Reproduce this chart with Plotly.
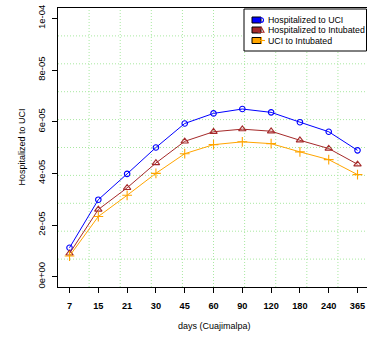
import plotly.graph_objects as go

days = ["7", "15", "21", "30", "45", "60", "90", "120", "180", "240", "365"]
hosp_to_uci = [1.12e-5, 2.98e-5, 3.98e-5, 5.00e-5, 5.93e-5, 6.32e-5, 6.49e-5, 6.36e-5, 5.98e-5, 5.61e-5, 4.89e-5]
hosp_to_intubated = [0.90e-5, 2.60e-5, 3.44e-5, 4.40e-5, 5.24e-5, 5.61e-5, 5.71e-5, 5.63e-5, 5.28e-5, 4.96e-5, 4.35e-5]
uci_to_intubated = [0.80e-5, 2.33e-5, 3.15e-5, 4.00e-5, 4.76e-5, 5.11e-5, 5.22e-5, 5.15e-5, 4.83e-5, 4.53e-5, 3.95e-5]
ytick_vals = [0, 2e-5, 4e-5, 6e-5, 8e-5, 1e-4]
ytick_text = ["0e+00", "2e-05", "4e-05", "6e-05", "8e-05", "1e-04"]
series_names = ["Hospitalized to UCI", "Hospitalized to Intubated", "UCI to Intubated"]

FONT = "Liberation Sans, Arial, sans-serif"
W, H = 367, 337
ML, MR, MT, MB = 58, 0, 8, 50
pw, ph = W - ML - MR, H - MT - MB
unit = 28.8
x_full = (0.6, 11.4)
x_range = [0.6, 0.6 + pw / unit]
y_range = [-4e-6, 1.04e-4]

x = list(range(1, len(days) + 1))
colors = ["#0000FF", "#A52A2A", "#FFA500"]
symbols = ["circle-open", "triangle-up-open", "cross-thin-open"]
sizes = [5.5, 6.5, 7]
series = [hosp_to_uci, hosp_to_intubated, uci_to_intubated]

fig = go.Figure()
for vals, c, s, sz, nm in zip(series, colors, symbols, sizes, series_names):
    fig.add_trace(go.Scatter(
        x=x, y=vals, mode="lines+markers", name=nm, showlegend=False,
        line=dict(color=c, width=1),
        marker=dict(symbol=s, size=sz, color=c, line=dict(color=c, width=1.1)),
    ))

shapes = []
grid_col = "#A8E8A0"
grid_dash = "1px,2px"
# R-style grid: 10 equal divisions of the full plot region
for k in range(1, 10):
    gx = x_full[0] + k * (x_full[1] - x_full[0]) / 10
    shapes.append(dict(type="line", xref="x", yref="paper", x0=gx, x1=gx, y0=0, y1=1,
                       line=dict(color=grid_col, width=1, dash=grid_dash), layer="below"))
    gy = y_range[0] + k * (y_range[1] - y_range[0]) / 10
    shapes.append(dict(type="line", xref="paper", yref="y", x0=0, x1=1, y0=gy, y1=gy,
                       line=dict(color=grid_col, width=1, dash=grid_dash), layer="below"))

def px2x(p):
    return (p - ML) / pw

def py2y(p):
    return (H - MB - p) / ph

# legend box
shapes.append(dict(type="rect", xref="paper", yref="paper",
                   x0=px2x(244), x1=px2x(366.5), y0=py2y(51), y1=py2y(9),
                   line=dict(color="black", width=1), fillcolor="white", layer="above"))
annotations = []
row_y = [20, 30, 40.5]
for ry, c, nm in zip(row_y, colors, series_names):
    shapes.append(dict(type="rect", xref="paper", yref="paper",
                       x0=px2x(252), x1=px2x(261), y0=py2y(ry + 3), y1=py2y(ry - 3),
                       line=dict(color="black", width=1), fillcolor=c, layer="above"))
    annotations.append(dict(text=nm, xref="paper", yref="paper", x=px2x(266), y=py2y(ry),
                            xanchor="left", yanchor="middle", showarrow=False,
                            font=dict(family=FONT, size=8.8, color="black")))
# legend point symbols
shapes.append(dict(type="circle", xref="paper", yref="paper",
                   x0=px2x(259), x1=px2x(263.5), y0=py2y(row_y[0] + 2.3), y1=py2y(row_y[0] - 2.3),
                   line=dict(color=colors[0], width=1.1), layer="above"))
tri = "M {} {} L {} {} L {} {} Z".format(px2x(258.5), py2y(row_y[1] + 2.2), px2x(264), py2y(row_y[1] + 2.2),
                                           px2x(261.25), py2y(row_y[1] - 2.8))
shapes.append(dict(type="path", xref="paper", yref="paper", path=tri,
                   line=dict(color=colors[1], width=1.1), layer="above"))
shapes.append(dict(type="line", xref="paper", yref="paper", x0=px2x(258), x1=px2x(265),
                   y0=py2y(row_y[2]), y1=py2y(row_y[2]), line=dict(color=colors[2], width=1.1), layer="above"))
shapes.append(dict(type="line", xref="paper", yref="paper", x0=px2x(261.5), x1=px2x(261.5),
                   y0=py2y(row_y[2] + 3.5), y1=py2y(row_y[2] - 3.5), line=dict(color=colors[2], width=1.1), layer="above"))

annotations.append(dict(text="days (Cuajimalpa)", xref="paper", yref="paper",
                        x=px2x(214), y=py2y(326), xanchor="center", yanchor="middle",
                        showarrow=False, font=dict(family=FONT, size=9, color="black")))
annotations.append(dict(text="Hospitalized to UCI", xref="paper", yref="paper",
                        x=px2x(21), y=py2y(147.5), xanchor="center", yanchor="middle",
                        textangle=-90, showarrow=False, font=dict(family=FONT, size=9, color="black")))

fig.update_layout(
    width=W, height=H,
    margin=dict(l=ML, r=MR, t=MT, b=MB, pad=0),
    paper_bgcolor="white", plot_bgcolor="white",
    font=dict(family=FONT, color="black"),
    shapes=shapes, annotations=annotations,
    xaxis=dict(range=x_range, tickvals=x, ticktext=["<b>%s</b>" % d for d in days],
               showgrid=False, zeroline=False, showline=True, linecolor="black", linewidth=1,
               mirror=True, ticks="outside", ticklen=5, tickcolor="black", tickwidth=1,
               ticklabelstandoff=5, tickfont=dict(family=FONT, size=9.2, color="black")),
    yaxis=dict(range=y_range, tickvals=ytick_vals, ticktext=ytick_text, tickangle=-90,
               showgrid=False, zeroline=False, showline=True, linecolor="black", linewidth=1,
               ticks="outside", ticklen=5, tickcolor="black", tickwidth=1,
               ticklabelstandoff=3, tickfont=dict(family=FONT, size=9.5, color="black")),
    showlegend=False,
)

fig.write_html(
    "out.html",
    config={"displayModeBar": False},
    post_script="document.body.style.margin='0';document.body.style.overflow='hidden';",
)
